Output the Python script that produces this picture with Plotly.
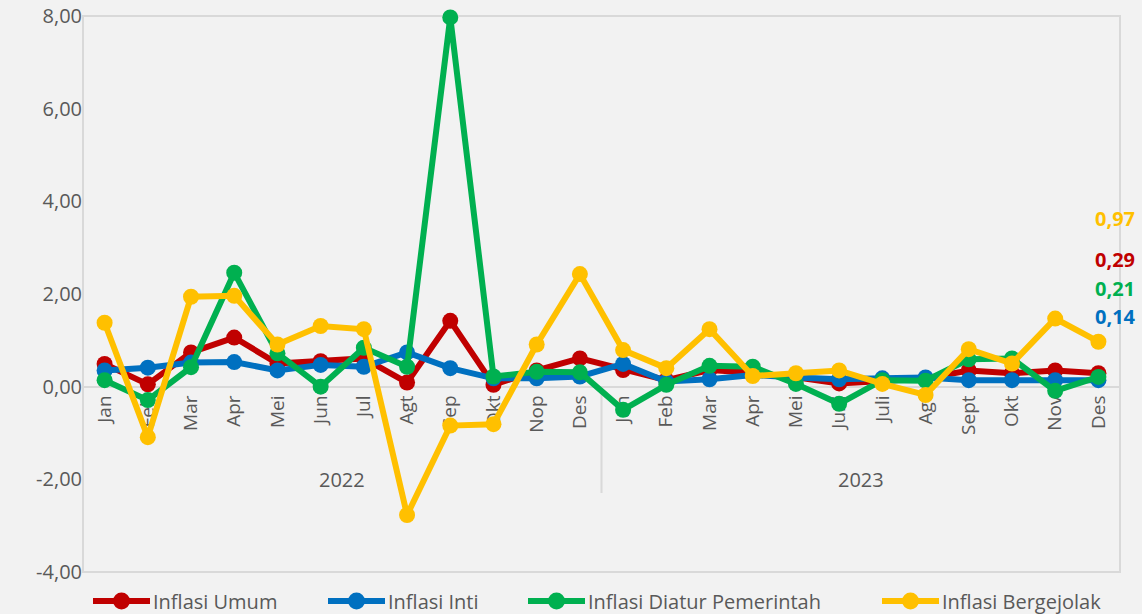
import plotly.graph_objects as go

months_2022 = ["Jan", "Feb", "Mar", "Apr", "Mei", "Jun", "Jul", "Agt", "Sep", "Okt", "Nop", "Des"]
months_2023 = ["Jan", "Feb", "Mar", "Apr", "Mei", "Juni", "Juli", "Agt", "Sept", "Okt", "Nov", "Des"]
years = ["2022", "2023"]

inflasi_umum = [0.49, 0.05, 0.74, 1.06, 0.50, 0.55, 0.61, 0.09, 1.42, 0.04, 0.35, 0.61,
                0.36, 0.14, 0.36, 0.30, 0.20, 0.07, 0.12, 0.18, 0.35, 0.29, 0.35, 0.29]
inflasi_inti = [0.35, 0.41, 0.52, 0.53, 0.35, 0.47, 0.43, 0.74, 0.40, 0.18, 0.18, 0.22,
                0.49, 0.11, 0.16, 0.25, 0.20, 0.16, 0.18, 0.20, 0.14, 0.14, 0.14, 0.14]
inflasi_diatur = [0.14, -0.29, 0.42, 2.46, 0.72, 0.00, 0.84, 0.43, 7.97, 0.22, 0.32, 0.31,
                  -0.50, 0.04, 0.45, 0.43, 0.06, -0.37, 0.14, 0.13, 0.59, 0.61, -0.09, 0.21]
inflasi_bergejolak = [1.38, -1.09, 1.94, 1.96, 0.91, 1.31, 1.24, -2.77, -0.84, -0.81, 0.91, 2.43,
                      0.79, 0.40, 1.24, 0.23, 0.29, 0.35, 0.06, -0.18, 0.81, 0.50, 1.47, 0.97]

y_ticks = [-4, -2, 0, 2, 4, 6, 8]

series = [
    ("Inflasi Umum", inflasi_umum, "#C00000"),
    ("Inflasi Inti", inflasi_inti, "#0070C0"),
    ("Inflasi Diatur Pemerintah", inflasi_diatur, "#00B050"),
    ("Inflasi Bergejolak", inflasi_bergejolak, "#FFC000"),
]

labels = months_2022 + months_2023
xs = list(range(len(labels)))

W, H = 1142, 614
ML, MR, MT, MB = 83, 22, 16, 42
PW, PH = W - ML - MR, H - MT - MB

def px_x(p):
    return (p - ML) / PW

def px_y(p):
    return (H - MB - p) / PH

fig = go.Figure()
for name, vals, col in series:
    fig.add_trace(go.Scatter(
        x=xs, y=vals, name=name, mode="lines+markers",
        line=dict(color=col, width=6),
        marker=dict(color=col, size=16),
        cliponaxis=False, showlegend=False,
    ))

def fmt(v):
    return f"{v:.2f}".replace(".", ",")

font_fam = "Open Sans"
grey = "#595959"

# end-value labels
label_py = [219, 259, 288, 316]
order = [3, 0, 2, 1]
for py, idx in zip(label_py, order):
    name, vals, col = series[idx]
    fig.add_annotation(xref="paper", yref="paper", x=px_x(1115), y=px_y(py), text=f"<b>{fmt(vals[-1])}</b>",
                       showarrow=False, xanchor="center", yanchor="middle",
                       font=dict(family=font_fam, size=20, color=col))

# year labels
for i, yr in enumerate(years):
    fig.add_annotation(xref="x", yref="paper", x=5.5 + 12 * i, y=px_y(479), text=yr, showarrow=False,
                       xanchor="center", yanchor="middle", font=dict(family=font_fam, size=20, color=grey))

# separator and border
fig.add_shape(type="line", xref="x", yref="paper", x0=11.5, x1=11.5, y0=1/3, y1=px_y(493),
              line=dict(color="#d9d9d9", width=2), layer="below")
fig.add_shape(type="rect", xref="paper", yref="paper", x0=0, x1=1, y0=0, y1=1,
              line=dict(color="#d9d9d9", width=2), layer="below")

# manual legend
legend_starts = [93, 328, 528, 882]
leg_y = px_y(601)
for (name, vals, col), sx in zip(series, legend_starts):
    fig.add_shape(type="line", xref="paper", yref="paper", x0=px_x(sx), x1=px_x(sx + 57),
                  y0=leg_y, y1=leg_y, line=dict(color=col, width=6))
    fig.add_shape(type="circle", xref="paper", yref="paper", xsizemode="pixel", ysizemode="pixel",
                  xanchor=px_x(sx + 28.5), yanchor=leg_y, x0=-8.5, x1=8.5, y0=-8.5, y1=8.5,
                  fillcolor=col, line=dict(color=col, width=0))
    fig.add_annotation(xref="paper", yref="paper", x=px_x(sx + 58), y=leg_y, text=name,
                       showarrow=False, xanchor="left", yanchor="middle",
                       font=dict(family=font_fam, size=20, color=grey))

fig.update_layout(
    width=W, height=H,
    margin=dict(l=ML, r=MR, t=MT, b=MB),
    paper_bgcolor="#f2f2f2", plot_bgcolor="#f2f2f2",
    font=dict(family=font_fam, color=grey),
    showlegend=False,
    xaxis=dict(
        range=[-0.5, 23.5], tickvals=xs, ticktext=labels, tickangle=-90,
        tickfont=dict(family=font_fam, size=19, color=grey),
        showgrid=False, zeroline=False, showline=False, ticks="",
        ticklabelstandoff=4,
        anchor="free", position=1/3, layer="below traces", automargin=False,
    ),
    yaxis=dict(
        range=[-4, 8], tickvals=y_ticks, ticktext=[fmt(v) for v in y_ticks],
        tickfont=dict(family=font_fam, size=20, color=grey),
        showgrid=False, zeroline=True, zerolinecolor="#d9d9d9", zerolinewidth=2,
        showline=False, ticks="", layer="below traces", automargin=False,
    ),
)

fig.write_html("out.html", config={"displayModeBar": False},
               post_script="document.body.style.margin='0';document.body.style.background='#f2f2f2';")
